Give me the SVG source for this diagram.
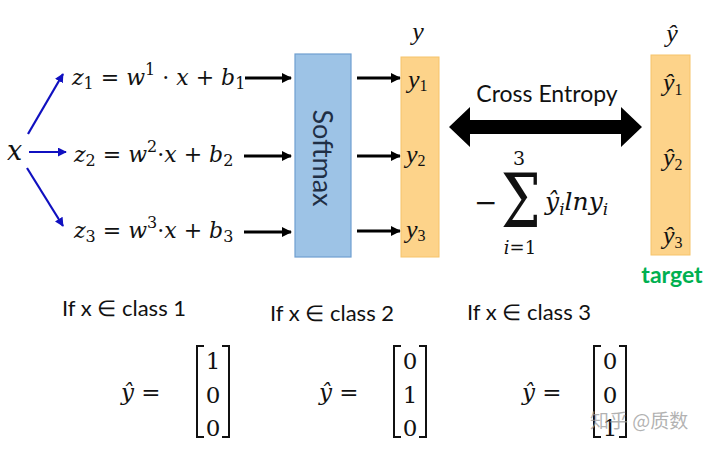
<svg xmlns="http://www.w3.org/2000/svg" width="720" height="453" viewBox="0 0 720 453">
<defs>
<style>
.m{font-family:"DejaVu Serif","Liberation Serif",serif;font-style:italic;font-size:22px;fill:#111}
.n{font-family:"DejaVu Serif","Liberation Serif",serif;font-size:23px;fill:#111}
.t{font-family:"Liberation Serif",serif;font-style:italic;font-size:26px;fill:#111}
.s{font-family:Lato,"Open Sans","Liberation Sans",sans-serif;font-size:22px;fill:#111}
.sub{font-size:16px;font-style:normal}
.blk{stroke:#000;stroke-width:3;fill:none}
.blu{stroke:#1010c0;stroke-width:2.2;fill:none}
</style>
<marker id="ab" viewBox="0 0 10 10" refX="9" refY="5" markerWidth="9" markerHeight="9" markerUnits="userSpaceOnUse" orient="auto"><path d="M0,0L10,5L0,10z" fill="#1010c0"/></marker>
<marker id="ak" viewBox="0 0 10 10" refX="9" refY="5" markerWidth="10" markerHeight="10" markerUnits="userSpaceOnUse" orient="auto"><path d="M0,0L10,5L0,10z" fill="#000"/></marker>
</defs>
<rect width="720" height="453" fill="#fff"/>
<g id="connectors">
<line class="blu" x1="28" y1="134" x2="63" y2="74" marker-end="url(#ab)"/>
<line class="blu" x1="29" y1="152" x2="66" y2="152" marker-end="url(#ab)"/>
<line class="blu" x1="27" y1="168" x2="63" y2="226" marker-end="url(#ab)"/>
<line class="blk" x1="245" y1="78" x2="291" y2="78" marker-end="url(#ak)"/>
<line class="blk" x1="244" y1="156" x2="291" y2="156" marker-end="url(#ak)"/>
<line class="blk" x1="244" y1="232" x2="291" y2="232" marker-end="url(#ak)"/>
<line class="blk" x1="357" y1="78" x2="400" y2="78" marker-end="url(#ak)"/>
<line class="blk" x1="357" y1="156" x2="400" y2="156" marker-end="url(#ak)"/>
<line class="blk" x1="357" y1="231" x2="400" y2="231" marker-end="url(#ak)"/>
<path d="M449,127L470,107L470,120L621,120L621,107L642,127L621,147L621,134L470,134L470,147Z" fill="#000"/>
</g>
<g id="x"><text class="m" x="7" y="160" style="font-size:27px">x</text></g>
<g id="z1"><text class="m" x="72" y="85">z<tspan class="sub" dy="4">1</tspan><tspan dy="-4" font-style="normal"> = </tspan>w<tspan class="sub" dy="-10">1</tspan><tspan dy="10" font-style="normal"> · </tspan>x<tspan font-style="normal"> + </tspan>b<tspan class="sub" dy="4">1</tspan></text></g>
<g id="z2"><text class="m" x="74" y="162">z<tspan class="sub" dy="4">2</tspan><tspan dy="-4" font-style="normal"> = </tspan>w<tspan class="sub" dy="-10">2</tspan><tspan dy="10" font-style="normal">·</tspan>x<tspan font-style="normal"> + </tspan>b<tspan class="sub" dy="4">2</tspan></text></g>
<g id="z3"><text class="m" x="74" y="238">z<tspan class="sub" dy="4">3</tspan><tspan dy="-4" font-style="normal"> = </tspan>w<tspan class="sub" dy="-10">3</tspan><tspan dy="10" font-style="normal">·</tspan>x<tspan font-style="normal"> + </tspan>b<tspan class="sub" dy="4">3</tspan></text></g>
<g id="softmax">
<rect x="295" y="54" width="56" height="203" fill="#9dc3e6" stroke="#6f9fd0" stroke-width="1.2"/>
<text class="s" x="0" y="0" transform="translate(313,158) rotate(90)" text-anchor="middle" style="font-size:27px;fill:#1f2f45">Softmax</text>
</g>
<g id="y">
<text class="t" x="418" y="40" text-anchor="middle">y</text>
<rect x="401" y="57" width="38" height="200" fill="#fdd38a" stroke="#f6c36a" stroke-width="1"/>
<text class="t" x="408" y="88">y<tspan class="sub" dy="3">1</tspan></text>
<text class="t" x="406" y="163">y<tspan class="sub" dy="3">2</tspan></text>
<text class="t" x="406" y="238">y<tspan class="sub" dy="3">3</tspan></text>
</g>
<g id="crossentropy">
<text class="s" x="547" y="102" text-anchor="middle" style="font-size:23px">Cross Entropy</text>
<text class="n" x="474" y="212" style="font-size:28px">−</text>
<text class="n" x="0" y="0" transform="translate(501,227) scale(0.72,0.96)" style="font-size:78px">Σ</text>
<text class="n" x="519" y="165" text-anchor="middle" style="font-size:19px">3</text>
<text class="m" x="520" y="254" text-anchor="middle" style="font-size:18px">i<tspan font-style="normal">=1</tspan></text>
<text class="m" x="545" y="210" style="font-size:25px">ŷ<tspan font-size="17" dy="5">i</tspan><tspan dy="-5">lny</tspan><tspan font-size="17" dy="5">i</tspan></text>
</g>
<g id="yhat">
<text class="t" x="672" y="42" text-anchor="middle">ŷ</text>
<rect x="651" y="55" width="39" height="200" fill="#fdd38a" stroke="#f6c36a" stroke-width="1"/>
<text class="t" x="663" y="91">ŷ<tspan class="sub" dy="4">1</tspan></text>
<text class="t" x="663" y="166">ŷ<tspan class="sub" dy="4">2</tspan></text>
<text class="t" x="663" y="244">ŷ<tspan class="sub" dy="4">3</tspan></text>
<text x="672" y="283" text-anchor="middle" font-family="Lato,'Open Sans',sans-serif" font-weight="bold" font-size="23" fill="#00b050">target</text>
</g>
<g id="class1">
<text class="s" x="62" y="316">If x ∈ class 1</text>
<text class="m" x="121" y="400" style="font-size:23px">ŷ<tspan font-style="normal"> =</tspan></text>
<path d="M204,346H197V437H204M222,346H229V437H222" fill="none" stroke="#111" stroke-width="2"/>
<text class="n" x="213" y="369" text-anchor="middle">1</text>
<text class="n" x="213" y="403" text-anchor="middle">0</text>
<text class="n" x="213" y="436" text-anchor="middle">0</text>
</g>
<g id="class2">
<text class="s" x="270" y="321">If x ∈ class 2</text>
<text class="m" x="319" y="400" style="font-size:23px">ŷ<tspan font-style="normal"> =</tspan></text>
<path d="M401,346H394V437H401M419,346H426V437H419" fill="none" stroke="#111" stroke-width="2"/>
<text class="n" x="410" y="369" text-anchor="middle">0</text>
<text class="n" x="410" y="403" text-anchor="middle">1</text>
<text class="n" x="410" y="436" text-anchor="middle">0</text>
</g>
<g id="class3">
<text class="s" x="467" y="320">If x ∈ class 3</text>
<text class="m" x="522" y="400" style="font-size:23px">ŷ<tspan font-style="normal"> =</tspan></text>
<path d="M601,346H594V437H601M619,346H626V437H619" fill="none" stroke="#111" stroke-width="2"/>
<text class="n" x="610" y="369" text-anchor="middle">0</text>
<text class="n" x="610" y="403" text-anchor="middle">0</text>
<text class="n" x="610" y="436" text-anchor="middle">1</text>
</g>
<g id="watermark">
<text x="590" y="428" font-family="'Noto Sans CJK SC',sans-serif" font-size="19" fill="#999" fill-opacity="0.75">知乎 @质数</text>
</g>
</svg>
